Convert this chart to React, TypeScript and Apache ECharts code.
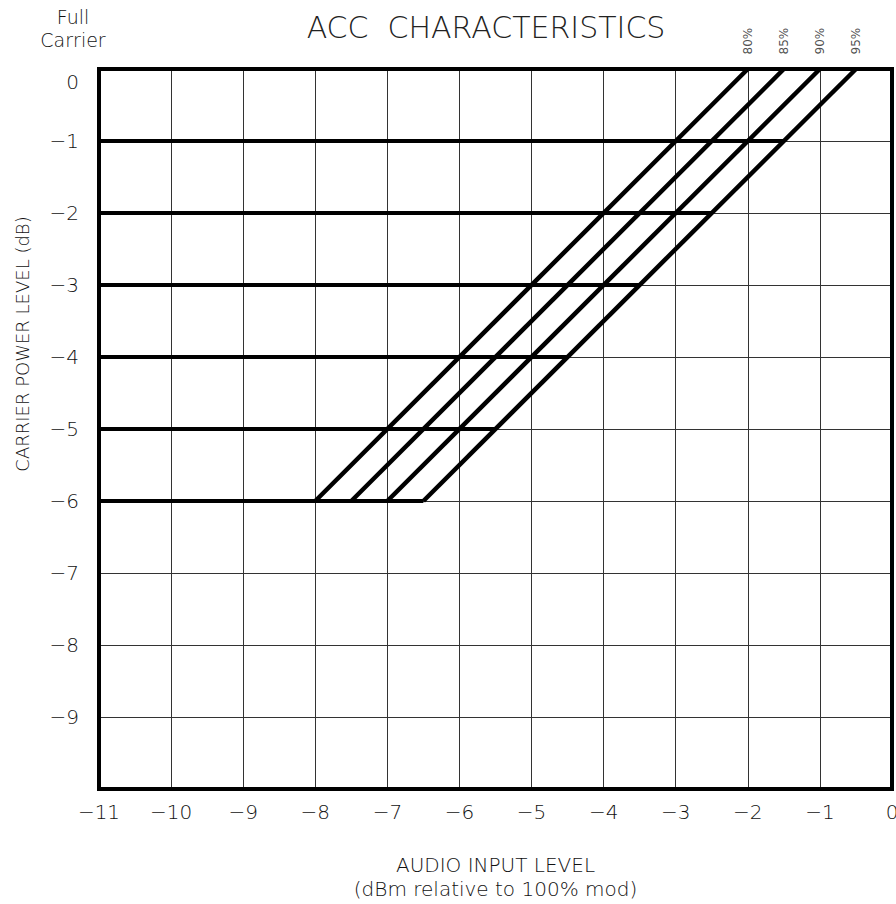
import React, { useEffect, useRef } from "react";
import * as echarts from "echarts";

// Horizontal ceiling levels (carrier power, dB) and where each meets the 95% line
const levels = [-1, -2, -3, -4, -5, -6];
const levelEnds = [-1.5, -2.5, -3.5, -4.5, -5.5, -6.5];
const levelStart = -11;

// Modulation curves
const pctNames = ["80%", "85%", "90%", "95%"];
const pctTopX = [-2, -1.5, -1, -0.5];
const pctTopY = 0;
const pctBottomX = [-8, -7.5, -7, -6.5];
const pctBottomY = -6;

// Axes
const xMin = -11;
const xMax = 0;
const yMin = -10;
const yMax = 0;

const FONT = "DejaVu Sans";
const W = 200;
const TXT = "#111";

const fmtNum = (v: number) => (v < 0 ? "\u2212" + Math.abs(v) : String(v));

export default function App() {
  const ref = useRef<HTMLDivElement>(null);
  useEffect(() => {
    if (!ref.current) return;
    const chart = echarts.init(ref.current, null, { renderer: "svg" });

    const series: any[] = [];
    levels.forEach((lv, i) => {
      series.push({
        name: "level " + lv,
        type: "line",
        data: [
          [levelStart, lv],
          [levelEnds[i], lv],
        ],
        showSymbol: false,
        symbol: "none",
        lineStyle: { color: "#000", width: 4 },
        silent: true,
        z: 3,
      });
    });
    pctNames.forEach((nm, i) => {
      series.push({
        name: nm,
        type: "line",
        data: [
          [pctTopX[i], pctTopY],
          [pctBottomX[i], pctBottomY],
        ],
        showSymbol: false,
        symbol: "none",
        lineStyle: { color: "#000", width: 4.5 },
        silent: true,
        z: 3,
      });
    });
    series.push({
      name: "pct labels",
      type: "scatter",
      clip: false,
      symbol: "circle",
      symbolSize: 1,
      itemStyle: { color: "rgba(0,0,0,0)" },
      data: pctNames.map((nm, i) => ({ value: [pctTopX[i], pctTopY], name: nm })),
      label: {
        show: true,
        position: "top",
        distance: 10,
        rotate: 90,
        align: "left",
        verticalAlign: "middle",
        offset: [4, 0],
        formatter: (p: any) => p.name,
        fontFamily: FONT,
        fontSize: 12,
        fontWeight: "normal",
        color: "#222",
      },
      z: 5,
    });

    chart.setOption({
      animation: false,
      backgroundColor: "#fff",
      grid: {
        left: 99,
        right: 4,
        top: 69,
        bottom: 115,
        outerBoundsMode: "none",
        containLabel: false,
        show: true,
        borderColor: "#000",
        borderWidth: 4,
        z: 4,
      },
      title: {
        text: "ACC  CHARACTERISTICS",
        left: 481,
        top: 7,
        textAlign: "center",
        textStyle: {
          fontFamily: FONT,
          fontSize: 30,
          fontWeight: W,
          color: "#222",
        },
      },
      xAxis: {
        type: "value",
        min: xMin,
        max: xMax,
        interval: 1,
        axisLine: { show: false },
        axisTick: { show: false },
        splitLine: { show: true, lineStyle: { color: "#333", width: 1 } },
        axisLabel: {
          margin: 13,
          fontFamily: FONT,
          fontSize: 20,
          fontWeight: W,
          color: TXT,
          formatter: (v: number) => fmtNum(v),
        },
        name: "AUDIO INPUT LEVEL\n(dBm relative to 100% mod)",
        nameLocation: "middle",
        nameGap: 64,
        nameTextStyle: {
          fontFamily: FONT,
          fontSize: 20,
          fontWeight: W,
          lineHeight: 24,
          color: TXT,
          verticalAlign: "top",
        },
      },
      yAxis: {
        type: "value",
        min: yMin,
        max: yMax,
        interval: 1,
        axisLine: { show: false },
        axisTick: { show: false },
        splitLine: { show: true, lineStyle: { color: "#333", width: 1 } },
        axisLabel: {
          margin: 20,
          fontFamily: FONT,
          fontSize: 20,
          fontWeight: W,
          color: TXT,
          formatter: (v: number) => {
            if (v === yMin) return "";
            if (v === 0) return "{z|0}";
            return fmtNum(v);
          },
          rich: {
            z: {
              fontFamily: FONT,
              fontSize: 20,
              fontWeight: W,
              color: TXT,
              padding: [25, 0, 0, 0],
            },
          },
        },
      },
      graphic: [
        {
          type: "text",
          x: 73,
          y: 5,
          style: {
            text: "Full\nCarrier",
            fontFamily: FONT,
            fontSize: 19,
            fontWeight: W,
            lineHeight: 23,
            fill: TXT,
            align: "center",
            verticalAlign: "top",
          },
        },
        {
          type: "text",
          x: 22,
          y: 344,
          rotation: Math.PI / 2,
          style: {
            text: "CARRIER POWER LEVEL (dB)",
            fontFamily: FONT,
            fontSize: 18,
            fontWeight: W,
            fill: TXT,
            align: "center",
            verticalAlign: "middle",
          },
        },
      ],
      series,
    });
    return () => chart.dispose();
  }, []);
  return (
    <div
      ref={ref}
      style={{ position: "fixed", left: 0, top: 0, width: 896, height: 904 }}
    />
  );
}
